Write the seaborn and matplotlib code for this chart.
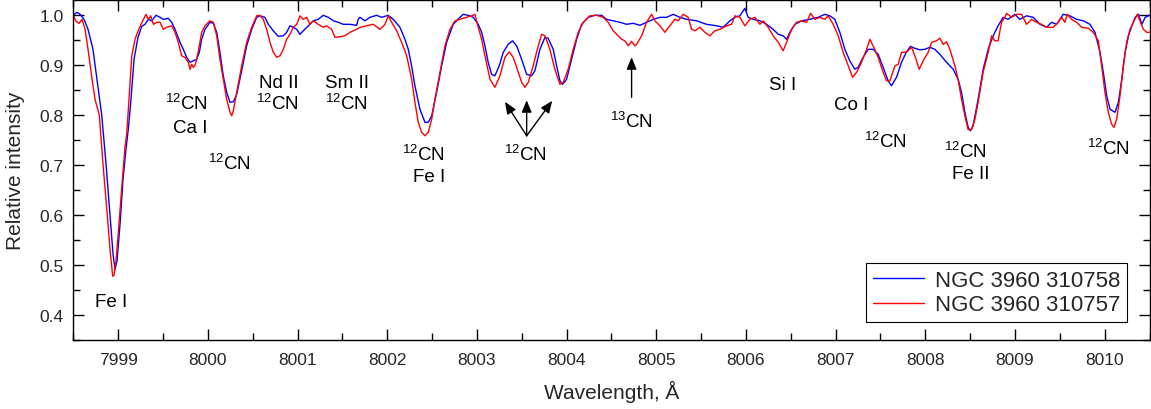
import numpy as np
import pandas as pd
import matplotlib
matplotlib.use("Agg")
import matplotlib.pyplot as plt
import seaborn as sns
from matplotlib.ticker import MultipleLocator

# ---------------- data ----------------
series_names = ["NGC 3960 310758", "NGC 3960 310757"]
series_colors = ["#0000ff", "#ff0000"]

blue_wl = [7998.500, 7998.541, 7998.575, 7998.619, 7998.664, 7998.719, 7998.764, 7998.817, 7998.865, 7998.909,
           7998.943, 7998.965, 7998.987, 7999.021, 7999.054, 7999.087, 7999.113, 7999.143, 7999.177, 7999.221,
           7999.263, 7999.299, 7999.336, 7999.374, 7999.422, 7999.467, 7999.503, 7999.559, 7999.597, 7999.634,
           7999.690, 7999.726, 7999.764, 7999.801, 7999.838, 7999.876, 7999.905, 7999.931, 7999.968, 8000.024,
           8000.061, 8000.099, 8000.135, 8000.172, 8000.210, 8000.247, 8000.284, 8000.322, 8000.377, 8000.433,
           8000.489, 8000.545, 8000.581, 8000.637, 8000.674, 8000.730, 8000.785, 8000.841, 8000.879, 8000.916,
           8000.953, 8000.991, 8001.027, 8001.064, 8001.120, 8001.176, 8001.231, 8001.287, 8001.343, 8001.399,
           8001.454, 8001.510, 8001.585, 8001.659, 8001.677, 8001.696, 8001.752, 8001.808, 8001.882, 8001.938,
           8002.012, 8002.067, 8002.142, 8002.198, 8002.235, 8002.272, 8002.309, 8002.365, 8002.421, 8002.458,
           8002.496, 8002.551, 8002.607, 8002.663, 8002.736, 8002.811, 8002.848, 8002.904, 8002.959, 8003.015,
           8003.053, 8003.090, 8003.126, 8003.164, 8003.201, 8003.249, 8003.294, 8003.349, 8003.398, 8003.443,
           8003.499, 8003.555, 8003.610, 8003.647, 8003.703, 8003.759, 8003.795, 8003.851, 8003.889, 8003.926,
           8003.956, 8004.000, 8004.056, 8004.112, 8004.168, 8004.241, 8004.316, 8004.391, 8004.446, 8004.520,
           8004.595, 8004.669, 8004.743, 8004.818, 8004.892, 8004.966, 8005.041, 8005.115, 8005.189, 8005.264,
           8005.338, 8005.450, 8005.561, 8005.673, 8005.746, 8005.821, 8005.877, 8005.932, 8005.988, 8006.025,
           8006.081, 8006.156, 8006.230, 8006.304, 8006.360, 8006.415, 8006.453, 8006.490, 8006.546, 8006.620,
           8006.713, 8006.805, 8006.880, 8006.936, 8006.991, 8007.047, 8007.103, 8007.158, 8007.214, 8007.251,
           8007.307, 8007.363, 8007.418, 8007.474, 8007.530, 8007.586, 8007.623, 8007.679, 8007.735, 8007.790,
           8007.835, 8007.883, 8007.939, 8007.995, 8008.051, 8008.106, 8008.162, 8008.237, 8008.311, 8008.366,
           8008.404, 8008.441, 8008.478, 8008.505, 8008.533, 8008.589, 8008.645, 8008.701, 8008.757, 8008.812,
           8008.868, 8008.924, 8008.999, 8009.054, 8009.129, 8009.203, 8009.278, 8009.353, 8009.408, 8009.464,
           8009.538, 8009.613, 8009.687, 8009.761, 8009.836, 8009.892, 8009.948, 8009.985, 8010.023, 8010.060,
           8010.116, 8010.153, 8010.191, 8010.228, 8010.265, 8010.303, 8010.340, 8010.377, 8010.415, 8010.452,
           8010.500]
blue_int = [1.000, 1.005, 1.001, 0.991, 0.971, 0.931, 0.871, 0.799, 0.701, 0.599,
            0.521, 0.491, 0.507, 0.581, 0.671, 0.731, 0.771, 0.831, 0.911, 0.955,
            0.977, 0.981, 0.991, 0.988, 0.999, 0.995, 0.991, 0.993, 0.985, 0.971,
            0.945, 0.931, 0.915, 0.905, 0.908, 0.911, 0.925, 0.951, 0.971, 0.985,
            0.983, 0.965, 0.925, 0.878, 0.845, 0.825, 0.826, 0.841, 0.888, 0.938,
            0.971, 0.995, 0.998, 0.995, 0.981, 0.968, 0.957, 0.958, 0.965, 0.978,
            0.975, 0.971, 0.961, 0.968, 0.978, 0.988, 0.991, 0.999, 0.995, 0.988,
            0.985, 0.981, 0.981, 0.979, 0.991, 0.995, 0.988, 0.995, 0.999, 0.995,
            0.999, 0.991, 0.975, 0.951, 0.931, 0.898, 0.858, 0.811, 0.785, 0.785,
            0.798, 0.845, 0.898, 0.945, 0.981, 0.995, 1.001, 0.999, 0.995, 0.981,
            0.965, 0.938, 0.905, 0.881, 0.878, 0.898, 0.925, 0.941, 0.948, 0.938,
            0.911, 0.881, 0.878, 0.888, 0.931, 0.955, 0.953, 0.931, 0.898, 0.868,
            0.861, 0.871, 0.911, 0.951, 0.981, 0.995, 0.999, 0.999, 0.991, 0.988,
            0.985, 0.981, 0.983, 0.979, 0.985, 0.991, 0.995, 0.995, 1.001, 0.995,
            0.991, 0.988, 0.981, 0.978, 0.975, 0.988, 0.995, 0.998, 1.013, 0.995,
            0.991, 0.988, 0.981, 0.971, 0.961, 0.958, 0.951, 0.965, 0.981, 0.988,
            0.991, 0.995, 1.001, 0.998, 0.991, 0.965, 0.931, 0.908, 0.891, 0.895,
            0.915, 0.931, 0.931, 0.921, 0.895, 0.868, 0.858, 0.875, 0.905, 0.926,
            0.937, 0.933, 0.930, 0.931, 0.935, 0.931, 0.921, 0.905, 0.891, 0.871,
            0.845, 0.805, 0.775, 0.768, 0.778, 0.831, 0.891, 0.931, 0.958, 0.978,
            0.995, 0.991, 1.001, 0.991, 0.998, 0.995, 0.981, 0.975, 0.985, 0.981,
            1.001, 0.998, 0.991, 0.988, 0.981, 0.965, 0.925, 0.885, 0.838, 0.811,
            0.805, 0.825, 0.871, 0.925, 0.958, 0.978, 0.995, 1.001, 0.981, 0.995,
            0.999]

red_wl = [7998.500, 7998.530, 7998.564, 7998.597, 7998.631, 7998.664, 7998.709, 7998.742, 7998.790, 7998.831,
          7998.879, 7998.909, 7998.939, 7998.954, 7998.976, 7999.009, 7999.043, 7999.076, 7999.095, 7999.121,
          7999.151, 7999.188, 7999.221, 7999.255, 7999.310, 7999.336, 7999.363, 7999.392, 7999.430, 7999.467,
          7999.503, 7999.541, 7999.597, 7999.634, 7999.671, 7999.708, 7999.745, 7999.782, 7999.801, 7999.820,
          7999.838, 7999.857, 7999.876, 7999.905, 7999.931, 7999.968, 8000.024, 8000.061, 8000.099, 8000.135,
          8000.172, 8000.210, 8000.247, 8000.266, 8000.284, 8000.322, 8000.377, 8000.433, 8000.489, 8000.545,
          8000.581, 8000.618, 8000.656, 8000.693, 8000.730, 8000.767, 8000.804, 8000.841, 8000.879, 8000.916,
          8000.953, 8000.991, 8001.027, 8001.064, 8001.102, 8001.139, 8001.176, 8001.231, 8001.287, 8001.325,
          8001.381, 8001.417, 8001.473, 8001.529, 8001.585, 8001.659, 8001.696, 8001.771, 8001.844, 8001.919,
          8001.975, 8002.012, 8002.050, 8002.105, 8002.161, 8002.217, 8002.273, 8002.309, 8002.346, 8002.384,
          8002.421, 8002.458, 8002.496, 8002.532, 8002.588, 8002.644, 8002.700, 8002.756, 8002.811, 8002.886,
          8002.941, 8002.978, 8003.015, 8003.053, 8003.090, 8003.146, 8003.201, 8003.257, 8003.313, 8003.361,
          8003.405, 8003.461, 8003.499, 8003.536, 8003.573, 8003.628, 8003.684, 8003.722, 8003.759, 8003.814,
          8003.870, 8003.926, 8003.963, 8004.018, 8004.074, 8004.130, 8004.186, 8004.261, 8004.335, 8004.409,
          8004.464, 8004.520, 8004.576, 8004.614, 8004.650, 8004.687, 8004.725, 8004.762, 8004.781, 8004.837,
          8004.892, 8004.948, 8004.985, 8005.041, 8005.096, 8005.152, 8005.208, 8005.245, 8005.301, 8005.356,
          8005.394, 8005.431, 8005.487, 8005.542, 8005.598, 8005.654, 8005.710, 8005.784, 8005.840, 8005.877,
          8005.932, 8005.988, 8006.044, 8006.100, 8006.156, 8006.192, 8006.248, 8006.304, 8006.360, 8006.415,
          8006.453, 8006.509, 8006.565, 8006.620, 8006.676, 8006.721, 8006.769, 8006.825, 8006.880, 8006.917,
          8006.973, 8007.029, 8007.084, 8007.140, 8007.189, 8007.234, 8007.289, 8007.345, 8007.382, 8007.418,
          8007.474, 8007.530, 8007.568, 8007.605, 8007.661, 8007.698, 8007.735, 8007.790, 8007.847, 8007.884,
          8007.932, 8007.976, 8008.032, 8008.070, 8008.125, 8008.162, 8008.199, 8008.237, 8008.274, 8008.330,
          8008.366, 8008.404, 8008.441, 8008.478, 8008.516, 8008.553, 8008.589, 8008.645, 8008.701, 8008.739,
          8008.775, 8008.812, 8008.850, 8008.887, 8008.906, 8008.962, 8009.017, 8009.073, 8009.129, 8009.185,
          8009.240, 8009.296, 8009.353, 8009.426, 8009.482, 8009.520, 8009.557, 8009.583, 8009.631, 8009.687,
          8009.743, 8009.817, 8009.873, 8009.929, 8009.966, 8010.003, 8010.040, 8010.078, 8010.104, 8010.134,
          8010.171, 8010.208, 8010.246, 8010.283, 8010.320, 8010.364, 8010.394, 8010.431, 8010.469, 8010.500]
red_int = [0.999, 0.987, 0.983, 0.991, 0.971, 0.931, 0.871, 0.831, 0.799, 0.701,
           0.599, 0.531, 0.477, 0.479, 0.507, 0.581, 0.661, 0.735, 0.761, 0.831,
           0.917, 0.951, 0.967, 0.981, 1.001, 0.991, 0.998, 0.981, 0.985, 0.985,
           0.971, 0.975, 0.978, 0.965, 0.945, 0.918, 0.915, 0.905, 0.891, 0.901,
           0.895, 0.899, 0.911, 0.938, 0.965, 0.978, 0.988, 0.985, 0.958, 0.911,
           0.871, 0.831, 0.805, 0.798, 0.808, 0.845, 0.898, 0.945, 0.975, 0.998,
           0.999, 0.991, 0.971, 0.945, 0.925, 0.915, 0.918, 0.931, 0.951, 0.961,
           0.975, 0.981, 0.998, 0.991, 0.995, 0.981, 0.988, 0.981, 0.975, 0.978,
           0.971, 0.955, 0.956, 0.958, 0.965, 0.971, 0.975, 0.978, 0.981, 0.971,
           0.981, 0.998, 0.985, 0.968, 0.945, 0.918, 0.871, 0.825, 0.785, 0.765,
           0.758, 0.765, 0.791, 0.831, 0.885, 0.938, 0.971, 0.988, 0.991, 0.995,
           0.998, 1.001, 0.975, 0.951, 0.918, 0.871, 0.855, 0.878, 0.915, 0.926,
           0.915, 0.885, 0.865, 0.855, 0.865, 0.898, 0.938, 0.961, 0.958, 0.931,
           0.891, 0.861, 0.865, 0.891, 0.931, 0.965, 0.985, 0.998, 0.999, 0.995,
           0.985, 0.968, 0.958, 0.951, 0.948, 0.938, 0.947, 0.938, 0.941, 0.958,
           0.985, 1.001, 0.988, 0.978, 0.965, 0.978, 0.991, 0.988, 1.001, 0.995,
           0.971, 0.968, 0.975, 0.965, 0.958, 0.968, 0.971, 0.978, 0.981, 0.998,
           0.995, 0.978, 0.991, 0.995, 0.981, 0.988, 0.975, 0.958, 0.945, 0.928,
           0.945, 0.971, 0.985, 0.988, 0.985, 1.003, 0.991, 0.995, 0.991, 0.998,
           0.981, 0.958, 0.925, 0.898, 0.875, 0.885, 0.905, 0.931, 0.951, 0.938,
           0.915, 0.885, 0.868, 0.868, 0.898, 0.901, 0.925, 0.925, 0.935, 0.918,
           0.891, 0.908, 0.925, 0.945, 0.948, 0.953, 0.941, 0.946, 0.931, 0.898,
           0.871, 0.831, 0.798, 0.770, 0.771, 0.791, 0.825, 0.885, 0.925, 0.958,
           0.948, 0.948, 0.985, 0.995, 1.003, 0.995, 1.001, 1.001, 0.981, 0.991,
           0.985, 0.981, 0.975, 0.975, 0.985, 0.995, 0.985, 1.001, 0.991, 0.985,
           0.975, 0.973, 0.965, 0.948, 0.898, 0.845, 0.805, 0.781, 0.775, 0.791,
           0.838, 0.898, 0.945, 0.971, 0.985, 1.001, 0.988, 0.971, 0.965, 0.965]

# line identifications: (text, wavelength, intensity) -- text centres
line_labels = ["Fe I", "$^{12}$CN", "Ca I", "$^{12}$CN", "Nd II", "$^{12}$CN", "Sm II", "$^{12}$CN",
               "$^{12}$CN", "Fe I", "$^{12}$CN", "$^{13}$CN", "Si I", "Co I", "$^{12}$CN",
               "$^{12}$CN", "Fe II", "$^{12}$CN"]
label_wl = [7998.92, 7999.757, 7999.80, 8000.241, 8000.788, 8000.771, 8001.557, 8001.546,
            8002.40, 8002.467, 8003.539, 8004.725, 8006.407, 8007.17, 8007.56,
            8008.446, 8008.508, 8010.046]
label_int = [0.427, 0.823, 0.774, 0.703, 0.865, 0.824, 0.865, 0.824,
             0.721, 0.676, 0.721, 0.788, 0.861, 0.820, 0.747,
             0.727, 0.683, 0.733]

# arrows: (tail wl, tail I, head wl, head I)
arrow_tail_wl = [8003.555, 8003.555, 8003.555, 8004.725]
arrow_tail_int = [0.758, 0.758, 0.758, 0.835]
arrow_head_wl = [8003.313, 8003.555, 8003.840, 8004.725]
arrow_head_int = [0.826, 0.829, 0.828, 0.915]

# ---------------- style ----------------
sns.set_theme(style="ticks")
plt.rcParams["font.family"] = ["Liberation Sans", "DejaVu Sans"]
plt.rcParams["mathtext.fontset"] = "custom"
plt.rcParams["mathtext.rm"] = "Liberation Sans"
plt.rcParams["mathtext.it"] = "Liberation Sans"
plt.rcParams["mathtext.default"] = "regular"
plt.rcParams["axes.linewidth"] = 1.0

df = pd.concat([
    pd.DataFrame({"Wavelength": blue_wl, "Intensity": blue_int, "Star": series_names[0]}),
    pd.DataFrame({"Wavelength": red_wl, "Intensity": red_int, "Star": series_names[1]}),
], ignore_index=True)

fig = plt.figure(figsize=(11.51, 4.10), dpi=100)
ax = fig.add_axes([0.0637, 0.169, 0.935, 0.829])

sns.lineplot(data=df, x="Wavelength", y="Intensity", hue="Star",
             palette=dict(zip(series_names, series_colors)),
             sort=False, estimator=None, linewidth=1.0, ax=ax)

ax.set_xlim(7998.5, 8010.5)
ax.set_ylim(0.35, 1.03)
ax.xaxis.set_major_locator(MultipleLocator(1))
ax.xaxis.set_minor_locator(MultipleLocator(0.5))
ax.yaxis.set_major_locator(MultipleLocator(0.1))
ax.yaxis.set_minor_locator(MultipleLocator(0.05))
ax.ticklabel_format(useOffset=False, style="plain", axis="x")
ax.tick_params(which="both", direction="in", top=True, right=True, color="black", width=1.0)
ax.tick_params(which="major", length=8, labelsize=12.5, pad=7)
ax.tick_params(which="minor", length=5)
ax.tick_params(axis="x", which="major", pad=9)
for s in ax.spines.values():
    s.set_color("black")

ax.set_xlabel("Wavelength, Å", fontsize=15)
ax.set_ylabel("Relative intensity", fontsize=15)
ax.xaxis.set_label_coords(0.5, -0.118)
ax.xaxis.label.set_va("top")
ax.yaxis.set_label_coords(-0.045, 0.5)

for t, x, y in zip(line_labels, label_wl, label_int):
    ax.text(x, y, t, ha="center", va="center", fontsize=13.5, color="black")

for xt, yt, xh, yh in zip(arrow_tail_wl, arrow_tail_int, arrow_head_wl, arrow_head_int):
    ax.annotate("", xy=(xh, yh), xytext=(xt, yt),
                arrowprops=dict(arrowstyle="-|>,head_length=0.6,head_width=0.25",
                                color="black", lw=1.0, shrinkA=0, shrinkB=0))

handles, labels = ax.get_legend_handles_labels()
leg = ax.legend(handles, labels, loc="lower right", bbox_to_anchor=(0.979, 0.052),
                borderaxespad=0, frameon=True, fancybox=False, edgecolor="black",
                framealpha=1, fontsize=16, handlelength=2.3, borderpad=0.3,
                labelspacing=0.15, handletextpad=0.5, title=None)
leg.get_frame().set_linewidth(0.8)

fig.savefig("out.png", dpi=100)
